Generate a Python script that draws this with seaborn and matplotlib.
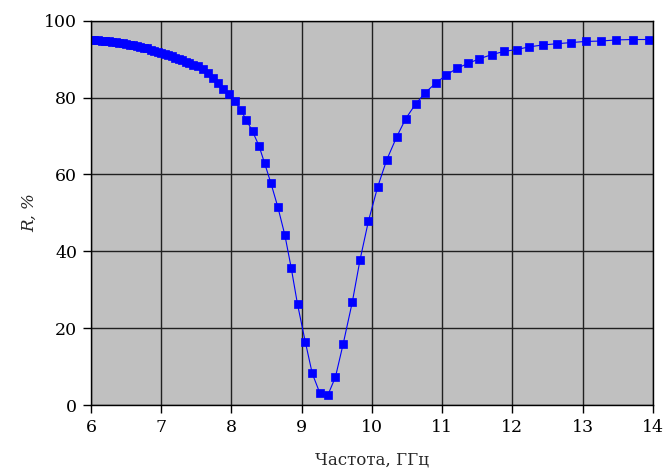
import pandas as pd
import matplotlib
matplotlib.use('Agg')
import matplotlib.pyplot as plt
import seaborn as sns

# частота, ГГц
freq = [6.00, 6.05, 6.10, 6.15, 6.20, 6.25, 6.30, 6.35, 6.40, 6.45,
        6.50, 6.55, 6.60, 6.65, 6.70, 6.75, 6.80, 6.85, 6.90, 6.95,
        7.00, 7.05, 7.10, 7.15, 7.20, 7.25, 7.30, 7.35, 7.40, 7.45,
        7.53, 7.60, 7.67, 7.74, 7.81, 7.88, 7.97, 8.05, 8.13, 8.21,
        8.30, 8.39, 8.47, 8.56, 8.66, 8.76, 8.85, 8.94, 9.05, 9.15,
        9.26, 9.37, 9.48, 9.59, 9.72, 9.83, 9.95, 10.08, 10.21, 10.35,
        10.48, 10.62, 10.76, 10.91, 11.06, 11.21, 11.37, 11.53, 11.71, 11.88,
        12.06, 12.24, 12.44, 12.63, 12.83, 13.04, 13.26, 13.48, 13.71, 13.95]
# коэффициент отражения, %
refl = [95.0, 94.9, 94.9, 94.8, 94.7, 94.6, 94.5, 94.4, 94.3, 94.1,
        94.0, 93.8, 93.6, 93.4, 93.2, 93.0, 92.8, 92.5, 92.2, 91.9,
        91.6, 91.3, 91.0, 90.7, 90.4, 90.0, 89.7, 89.3, 88.9, 88.5,
        88.1, 87.5, 86.4, 85.1, 83.8, 82.3, 80.8, 79.1, 76.8, 74.2,
        71.2, 67.5, 63.0, 57.8, 51.5, 44.2, 35.7, 26.2, 16.5, 8.2,
        3.0, 2.5, 7.3, 15.9, 26.8, 37.8, 47.9, 56.7, 63.8, 69.7,
        74.5, 78.3, 81.3, 83.8, 85.9, 87.6, 88.9, 90.1, 91.2, 92.0,
        92.5, 93.2, 93.7, 94.0, 94.3, 94.6, 94.7, 95.0, 95.1, 95.1]

xticks = [6, 7, 8, 9, 10, 11, 12, 13, 14]
yticks = [0, 20, 40, 60, 80, 100]

df = pd.DataFrame({'f': freq, 'R': refl})

sns.set_style('ticks')
plt.rcParams['font.family'] = ['DejaVu Serif']

fig = plt.figure(figsize=(6.67, 4.68), dpi=100)
ax = fig.add_axes([0.1364, 0.1346, 0.8426, 0.8212])
ax.set_facecolor('#c0c0c0')

sns.lineplot(data=df, x='f', y='R', ax=ax, color='#0000ff', linewidth=0.8,
             marker='s', markersize=5.8, markeredgecolor='#0000ff',
             markeredgewidth=0.5)

ax.set_xlim(6, 14)
ax.set_ylim(0, 100)
ax.set_xticks(xticks)
ax.set_yticks(yticks)
ax.grid(True, color='#202020', linewidth=1.0)
ax.set_axisbelow(True)
for s in ax.spines.values():
    s.set_color('black')
    s.set_linewidth(1.0)
    s.set_visible(True)
ax.tick_params(direction='out', length=6, width=1, colors='black',
               labelsize=12.5, pad=4)

ax.set_xlabel('Частота, ГГц', fontsize=12, labelpad=11)
ax.set_ylabel('R, %', fontsize=12, style='italic', labelpad=4)

plt.savefig('out.png', dpi=100)
plt.close()
